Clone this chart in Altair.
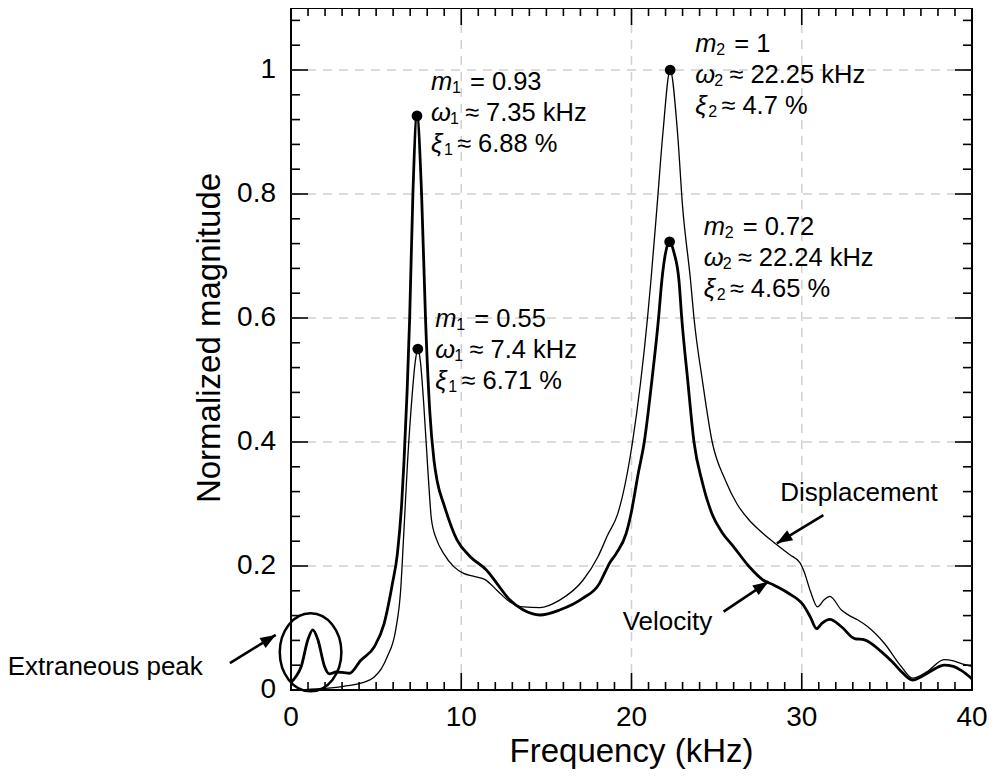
import altair as alt
import pandas as pd

# ---------------- data ----------------
vel_freq = [0.0, 0.3, 0.6, 0.99, 1.28, 1.58, 1.97, 2.26, 2.65, 3.1, 3.43, 4.1, 4.9, 5.47, 5.96,
            6.25, 6.5, 6.64, 6.97, 7.16, 7.4, 7.67, 7.9, 8.15, 8.4, 8.6, 8.97, 9.75, 10.53, 11.5,
            12.09, 12.86, 13.65, 14.62, 15.78, 17.15, 18.12, 18.41, 18.7, 19.1, 19.68, 19.97,
            20.4, 20.75, 21.2, 21.59, 21.78, 22.0, 22.24, 22.5, 22.79, 22.95, 23.3, 23.67, 24.16,
            24.73, 25.3, 26.0, 26.88, 27.75, 28.3, 29.22, 30.09, 30.5, 30.87, 31.2, 31.65, 32.33,
            33.1, 33.69, 34.67, 35.3, 35.84, 36.51, 37.2, 37.8, 38.36, 38.9, 39.34, 40.0]
vel_mag = [0.012, 0.022, 0.038, 0.081, 0.097, 0.081, 0.038, 0.026, 0.029, 0.028, 0.027, 0.048,
           0.070, 0.107, 0.172, 0.220, 0.300, 0.370, 0.600, 0.800, 0.926, 0.800, 0.600, 0.450,
           0.370, 0.335, 0.300, 0.242, 0.215, 0.193, 0.172, 0.145, 0.129, 0.121, 0.129, 0.148,
           0.172, 0.188, 0.204, 0.220, 0.252, 0.284, 0.350, 0.400, 0.500, 0.600, 0.660, 0.705,
           0.723, 0.705, 0.660, 0.600, 0.500, 0.400, 0.335, 0.284, 0.255, 0.231, 0.200, 0.177,
           0.170, 0.156, 0.137, 0.118, 0.099, 0.108, 0.114, 0.102, 0.083, 0.081, 0.062, 0.046,
           0.030, 0.016, 0.024, 0.034, 0.040, 0.038, 0.032, 0.018]

disp_freq = [0.0, 1.0, 2.2, 3.1, 4.1, 4.89, 5.3, 5.66, 6.15, 6.44, 6.62, 6.85, 7.1, 7.3, 7.45,
             7.6, 7.8, 8.05, 8.25, 8.55, 8.97, 9.56, 10.14, 10.8, 11.4, 12.09, 12.86, 13.65,
             14.62, 15.78, 17.15, 18.03, 18.6, 19.19, 20.06, 20.94, 21.14, 21.5, 21.85, 22.27,
             22.7, 23.0, 23.47, 23.67, 24.16, 24.74, 25.52, 26.2, 26.88, 27.5, 28.5, 29.3, 29.9,
             30.15, 30.5, 30.93, 31.3, 31.65, 32.33, 32.8, 33.3, 33.88, 34.86, 35.84, 36.51,
             37.39, 38.36, 38.9, 39.34, 40.0]
disp_mag = [0.0, 0.001, 0.003, 0.006, 0.011, 0.021, 0.034, 0.054, 0.097, 0.161, 0.25, 0.37,
            0.47, 0.53, 0.55, 0.53, 0.46, 0.35, 0.275, 0.243, 0.22, 0.199, 0.188, 0.183, 0.178,
            0.161, 0.142, 0.134, 0.133, 0.145, 0.177, 0.215, 0.25, 0.284, 0.40, 0.60, 0.66,
            0.78, 0.90, 1.0, 0.90, 0.78, 0.66, 0.60, 0.50, 0.40, 0.338, 0.30, 0.275, 0.258,
            0.235, 0.218, 0.205, 0.19, 0.16, 0.134, 0.145, 0.151, 0.129, 0.12, 0.113, 0.102,
            0.075, 0.038, 0.019, 0.03, 0.049, 0.047, 0.043, 0.038]

peak_freq = [7.4, 7.45, 22.24, 22.27]
peak_mag = [0.926, 0.55, 0.723, 1.0]

# annotation blocks (anchor = left / centre of first line)
ann_freq = [8.22, 8.48, 23.75, 24.24]
ann_mag = [0.980, 0.599, 1.042, 0.746]
ann_sub = ["1", "1", "2", "2"]
ann_line1 = ["= 0.93", "= 0.55", "= 1", "= 0.72"]
ann_line2 = ["≈ 7.35 kHz", "≈ 7.4 kHz", "≈ 22.25 kHz", "≈ 22.24 kHz"]
ann_line3 = ["≈ 6.88 %", "≈ 6.71 %", "≈ 4.7 %", "≈ 4.65 %"]

label_text = ["Displacement", "Velocity", "Extraneous peak"]
label_freq = [33.36, 22.11, -10.91]
label_mag = [0.317, 0.110, 0.0378]

arrow_f0 = [31.27, 25.41, -3.59]
arrow_m0 = [0.282, 0.1264, 0.0433]
arrow_f1 = [28.54, 28.04, -0.896]
arrow_m1 = [0.2366, 0.1747, 0.0889]
arrow_angle = [238.7, 56.3, 58.4]

circle_freq = [1.15]
circle_mag = [0.0607]

x_major = [0, 10, 20, 30, 40]
x_labels = ["0", "10", "20", "30", "40"]
x_grid = [10, 20, 30]
x_minor = [1, 2, 3, 4, 5, 6, 7, 8, 9, 11, 12, 13, 14, 15, 16, 17, 18, 19, 21, 22, 23, 24,
           25, 26, 27, 28, 29, 31, 32, 33, 34, 35, 36, 37, 38, 39]
y_major = [0, 0.2, 0.4, 0.6, 0.8, 1.0]
y_labels = ["0", "0.2", "0.4", "0.6", "0.8", "1"]
y_grid = [0.2, 0.4, 0.6, 0.8, 1.0]
y_minor = [0.04, 0.08, 0.12, 0.16, 0.24, 0.28, 0.32, 0.36, 0.44, 0.48, 0.52, 0.56, 0.64,
           0.68, 0.72, 0.76, 0.84, 0.88, 0.92, 0.96, 1.04, 1.08]
x_title = ["Frequency (kHz)"]
y_title = ["Normalized magnitude"]

# ---------------- chart ----------------
W, H = 681, 682
X_MAX, Y_MAX = 40.0, 1.1
PX_X = W / X_MAX
PX_Y = H / Y_MAX
FONT = "Liberation Sans"
ANN = 25.5

xs = alt.Scale(domain=[0, X_MAX], nice=False, zero=False)
ys = alt.Scale(domain=[0, Y_MAX], nice=False, zero=False)


def Xn(field):
    return alt.X(field, type="quantitative", scale=xs, axis=None)


def Yn(field):
    return alt.Y(field, type="quantitative", scale=ys, axis=None)


vel_df = pd.DataFrame({"f": vel_freq, "m": vel_mag})
disp_df = pd.DataFrame({"f": disp_freq, "m": disp_mag})
peak_df = pd.DataFrame({"f": peak_freq, "m": peak_mag})
ann_df = pd.DataFrame({"f": ann_freq, "m": ann_mag, "sub": ann_sub,
                       "l1": ann_line1, "l2": ann_line2, "l3": ann_line3})
lab_df = pd.DataFrame({"f": label_freq, "m": label_mag, "t": label_text})
arr_df = pd.DataFrame({"f0": arrow_f0, "m0": arrow_m0, "f1": arrow_f1, "m1": arrow_m1,
                       "ang": arrow_angle})
circ_df = pd.DataFrame({"f": circle_freq, "m": circle_mag})

# tick segments (inward, on all four sides) built from the tick arrays
tx0, tx1, ty0, ty1 = [], [], [], []
for vals, L in ((x_major, 17), (x_minor, 8)):
    dl = L / PX_Y
    for v in vals:
        tx0 += [v, v]
        tx1 += [v, v]
        ty0 += [0.0, Y_MAX]
        ty1 += [dl, Y_MAX - dl]
for vals, L in ((y_major, 17), (y_minor, 9)):
    dl = L / PX_X
    for v in vals:
        tx0 += [0.0, X_MAX]
        tx1 += [dl, X_MAX - dl]
        ty0 += [v, v]
        ty1 += [v, v]
tick_df = pd.DataFrame({"tx0": tx0, "tx1": tx1, "ty0": ty0, "ty1": ty1})

layers = []

# dashed grid
grid_style = dict(color="#d0d0d0", strokeWidth=1.5, strokeDash=[9, 7])
layers.append(alt.Chart(pd.DataFrame({"gf": x_grid})).mark_rule(**grid_style).encode(
    x=Xn("gf"), y=alt.value(0), y2=alt.value(H)))
layers.append(alt.Chart(pd.DataFrame({"gm": y_grid})).mark_rule(**grid_style).encode(
    y=Yn("gm"), x=alt.value(0), x2=alt.value(W)))

# ticks
layers.append(alt.Chart(tick_df).mark_rule(color="black", strokeWidth=1.6).encode(
    x=Xn("tx0"), x2="tx1", y=Yn("ty0"), y2="ty1"))

# tick labels and axis titles
layers.append(alt.Chart(pd.DataFrame({"xv": x_major, "xl": x_labels})).mark_text(
    font=FONT, fontSize=28, align="center", baseline="middle", color="black").encode(
    x=Xn("xv"), y=alt.value(H + 28), text="xl:N"))
layers.append(alt.Chart(pd.DataFrame({"yv": y_major, "yl": y_labels})).mark_text(
    font=FONT, fontSize=28, align="right", baseline="middle", color="black").encode(
    y=Yn("yv"), x=alt.value(-15), text="yl:N"))
layers.append(alt.Chart(pd.DataFrame({"xt": x_title})).mark_text(
    font=FONT, fontSize=33, align="center", baseline="middle", color="black").encode(
    x=alt.value(W / 2), y=alt.value(H + 62), text="xt:N"))
layers.append(alt.Chart(pd.DataFrame({"yt": y_title})).mark_text(
    font=FONT, fontSize=33, align="center", baseline="middle", angle=270,
    color="black").encode(x=alt.value(-81), y=alt.value(330), text="yt:N"))

# curves
layers.append(alt.Chart(disp_df).mark_line(color="black", strokeWidth=1.3,
                                           interpolate="monotone").encode(x=Xn("f"), y=Yn("m")))
layers.append(alt.Chart(vel_df).mark_line(color="black", strokeWidth=2.8, strokeJoin="round",
                                          interpolate="monotone").encode(x=Xn("f"), y=Yn("m")))

# peak dots
layers.append(alt.Chart(peak_df).mark_circle(color="black", opacity=1, size=115).encode(
    x=Xn("f"), y=Yn("m")))

# annotation blocks: italic symbol, subscript, remainder
symbols = ["m", "ω", "ξ"]
sub_dx = [21, 19, 13]
rest_dx = [39, 34, 26]
rest_field = ["l1", "l2", "l3"]
LINE = 31
for k in range(3):
    dy = k * LINE
    layers.append(alt.Chart(ann_df).mark_text(
        text=symbols[k], font=FONT, fontSize=ANN, fontStyle="italic", align="left",
        baseline="middle", dy=dy, color="black").encode(x=Xn("f"), y=Yn("m")))
    layers.append(alt.Chart(ann_df).mark_text(
        font=FONT, fontSize=16, align="left", baseline="middle", dx=sub_dx[k], dy=dy + 6,
        color="black").encode(x=Xn("f"), y=Yn("m"), text="sub:N"))
    layers.append(alt.Chart(ann_df).mark_text(
        font=FONT, fontSize=ANN, align="left", baseline="middle", dx=rest_dx[k], dy=dy,
        color="black").encode(x=Xn("f"), y=Yn("m"), text=f"{rest_field[k]}:N"))

# text labels
layers.append(alt.Chart(lab_df).mark_text(
    font=FONT, fontSize=26, align="center", baseline="middle", color="black").encode(
    x=Xn("f"), y=Yn("m"), text="t:N"))

# arrows
layers.append(alt.Chart(arr_df).mark_rule(color="black", strokeWidth=2.6).encode(
    x=Xn("f0"), y=Yn("m0"), x2="f1", y2="m1"))
ARROW = "M0,0L-0.75,2L0.75,2Z"
layers.append(alt.Chart(arr_df).mark_point(shape=ARROW, filled=True, color="black",
                                           opacity=1, size=240).encode(
    x=Xn("f1"), y=Yn("m1"), angle=alt.Angle("ang:Q", scale=None)))

# ellipse around extraneous peak
ELLIPSE = ("M0.79,0C0.79,0.5523,0.4363,1,0,1C-0.4363,1,-0.79,0.5523,-0.79,0"
           "C-0.79,-0.5523,-0.4363,-1,0,-1C0.4363,-1,0.79,-0.5523,0.79,0Z")
layers.append(alt.Chart(circ_df).mark_point(shape=ELLIPSE, filled=False, color="black",
                                            opacity=1, size=6084, strokeWidth=2.5).encode(
    x=Xn("f"), y=Yn("m")))

chart = alt.layer(*layers).properties(
    width=W, height=H,
    padding={"left": 283, "top": 0, "right": 16, "bottom": 84},
    autosize=alt.AutoSizeParams(type="none"),
).configure_view(stroke="black", strokeWidth=2)

chart.save("out.html", embed_options={"renderer": "svg", "actions": False})
